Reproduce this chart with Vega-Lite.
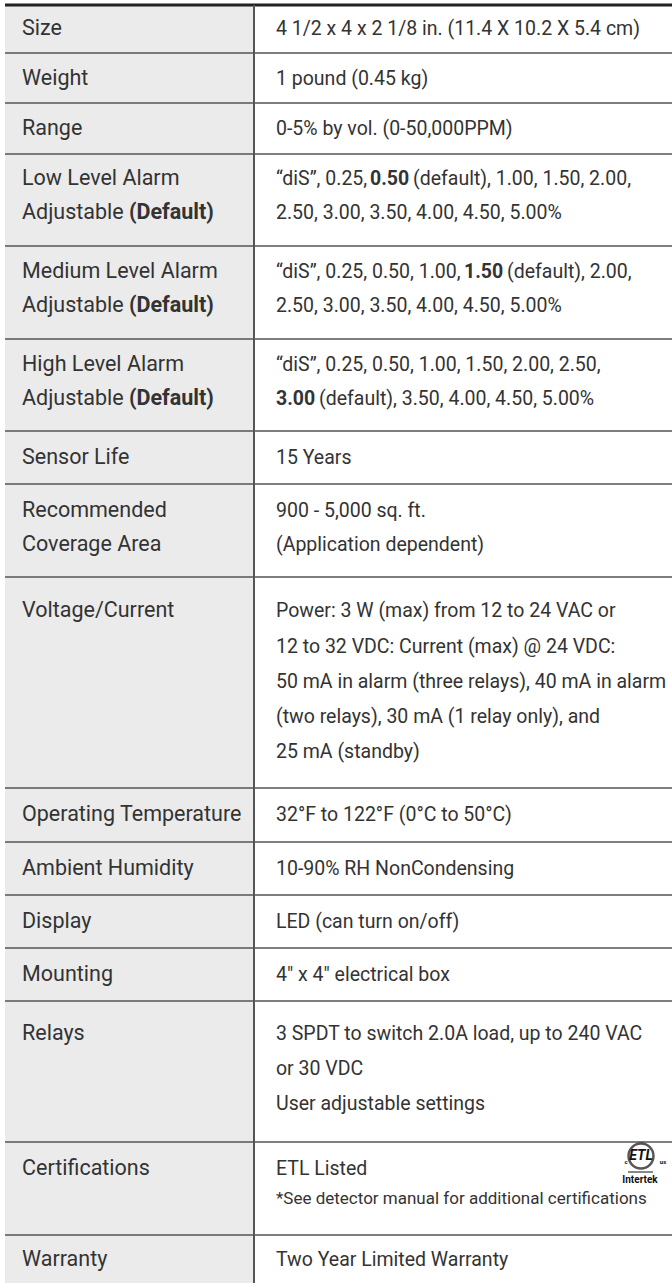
{
  "$schema": "https://vega.github.io/schema/vega-lite/v6.json",
  "width": 672,
  "height": 1283,
  "autosize": {"type": "fit", "contains": "padding"},
  "padding": 0,
  "background": "white",
  "config": {"view": {"stroke": null}},
  "datasets": {
    "rows": [
      {"row": 1, "top": 5, "bottom": 53},
      {"row": 2, "top": 53, "bottom": 103},
      {"row": 3, "top": 103, "bottom": 154},
      {"row": 4, "top": 154, "bottom": 246},
      {"row": 5, "top": 246, "bottom": 339},
      {"row": 6, "top": 339, "bottom": 431},
      {"row": 7, "top": 431, "bottom": 484},
      {"row": 8, "top": 484, "bottom": 577},
      {"row": 9, "top": 577, "bottom": 788},
      {"row": 10, "top": 788, "bottom": 842},
      {"row": 11, "top": 842, "bottom": 895},
      {"row": 12, "top": 895, "bottom": 948},
      {"row": 13, "top": 948, "bottom": 1001},
      {"row": 14, "top": 1001, "bottom": 1142},
      {"row": 15, "top": 1142, "bottom": 1235},
      {"row": 16, "top": 1235, "bottom": 1283}
    ],
    "cells": [
      {"x": 22, "y": 29, "kind": "label", "text": "Size"},
      {"x": 22, "y": 79, "kind": "label", "text": "Weight"},
      {"x": 22, "y": 129, "kind": "label", "text": "Range"},
      {"x": 22, "y": 179, "kind": "label", "text": "Low Level Alarm"},
      {"x": 22, "y": 213, "kind": "label", "text": "Adjustable"},
      {"x": 129, "y": 213, "kind": "labelbold", "text": "(Default)"},
      {"x": 22, "y": 272, "kind": "label", "text": "Medium Level Alarm"},
      {"x": 22, "y": 306, "kind": "label", "text": "Adjustable"},
      {"x": 129, "y": 306, "kind": "labelbold", "text": "(Default)"},
      {"x": 22, "y": 365, "kind": "label", "text": "High Level Alarm"},
      {"x": 22, "y": 399, "kind": "label", "text": "Adjustable"},
      {"x": 129, "y": 399, "kind": "labelbold", "text": "(Default)"},
      {"x": 22, "y": 458, "kind": "label", "text": "Sensor Life"},
      {"x": 22, "y": 511, "kind": "label", "text": "Recommended"},
      {"x": 22, "y": 545, "kind": "label", "text": "Coverage Area"},
      {"x": 22, "y": 611, "kind": "label", "text": "Voltage/Current"},
      {"x": 22, "y": 815, "kind": "label", "text": "Operating Temperature"},
      {"x": 22, "y": 869, "kind": "label", "text": "Ambient Humidity"},
      {"x": 22, "y": 922, "kind": "label", "text": "Display"},
      {"x": 22, "y": 975, "kind": "label", "text": "Mounting"},
      {"x": 22, "y": 1034, "kind": "label", "text": "Relays"},
      {"x": 22, "y": 1169, "kind": "label", "text": "Certifications"},
      {"x": 22, "y": 1260, "kind": "label", "text": "Warranty"},
      {"x": 276, "y": 29, "kind": "normal", "text": "4 1/2 x 4 x 2 1/8 in. (11.4 X 10.2 X 5.4 cm)"},
      {"x": 276, "y": 79, "kind": "normal", "text": "1 pound (0.45 kg)"},
      {"x": 276, "y": 129, "kind": "normal", "text": "0-5% by vol. (0-50,000PPM)"},
      {"x": 276, "y": 179, "kind": "normal", "text": "“diS”, 0.25,"},
      {"x": 370, "y": 179, "kind": "bold", "text": "0.50"},
      {"x": 413, "y": 179, "kind": "normal", "text": "(default), 1.00, 1.50, 2.00,"},
      {"x": 276, "y": 213, "kind": "normal", "text": "2.50, 3.00, 3.50, 4.00, 4.50, 5.00%"},
      {"x": 276, "y": 272, "kind": "normal", "text": "“diS”, 0.25, 0.50, 1.00,"},
      {"x": 464, "y": 272, "kind": "bold", "text": "1.50"},
      {"x": 507, "y": 272, "kind": "normal", "text": "(default), 2.00,"},
      {"x": 276, "y": 306, "kind": "normal", "text": "2.50, 3.00, 3.50, 4.00, 4.50, 5.00%"},
      {"x": 276, "y": 365, "kind": "normal", "text": "“diS”, 0.25, 0.50, 1.00, 1.50, 2.00, 2.50,"},
      {"x": 276, "y": 399, "kind": "bold", "text": "3.00"},
      {"x": 319, "y": 399, "kind": "normal", "text": "(default), 3.50, 4.00, 4.50, 5.00%"},
      {"x": 276, "y": 458, "kind": "normal", "text": "15 Years"},
      {"x": 276, "y": 511, "kind": "normal", "text": "900 - 5,000 sq. ft."},
      {"x": 276, "y": 545, "kind": "normal", "text": "(Application dependent)"},
      {"x": 276, "y": 611, "kind": "normal", "text": "Power: 3 W (max) from 12 to 24 VAC or"},
      {"x": 276, "y": 647, "kind": "normal", "text": "12 to 32 VDC: Current (max) @ 24 VDC:"},
      {"x": 276, "y": 682, "kind": "normal", "text": "50 mA in alarm (three relays), 40 mA in alarm"},
      {"x": 276, "y": 717, "kind": "normal", "text": "(two relays), 30 mA (1 relay only), and"},
      {"x": 276, "y": 752, "kind": "normal", "text": "25 mA (standby)"},
      {"x": 276, "y": 815, "kind": "normal", "text": "32°F to 122°F (0°C to 50°C)"},
      {"x": 276, "y": 869, "kind": "normal", "text": "10-90% RH NonCondensing"},
      {"x": 276, "y": 922, "kind": "normal", "text": "LED (can turn on/off)"},
      {"x": 276, "y": 975, "kind": "normal", "text": "4″ x 4″ electrical box"},
      {"x": 276, "y": 1034, "kind": "normal", "text": "3 SPDT to switch 2.0A load, up to 240 VAC"},
      {"x": 276, "y": 1069, "kind": "normal", "text": "or 30 VDC"},
      {"x": 276, "y": 1104, "kind": "normal", "text": "User adjustable settings"},
      {"x": 276, "y": 1169, "kind": "normal", "text": "ETL Listed"},
      {"x": 276, "y": 1199, "kind": "note", "text": "*See detector manual for additional certifications"},
      {"x": 276, "y": 1260, "kind": "normal", "text": "Two Year Limited Warranty"}
    ],
    "logo": [
      {"part": "ring", "x": 641, "y": 1156, "text": "ETL"},
      {"part": "c", "x": 626, "y": 1162, "text": "c"},
      {"part": "us", "x": 663, "y": 1162, "text": "us"},
      {"part": "brand", "x": 640, "y": 1180, "text": "Intertek"}
    ],
    "bar": [
      {"x": 628, "x2": 653, "y": 1172}
    ]
  },
  "layer": [
    {
      "data": {"name": "rows"},
      "mark": {"type": "rect", "color": "#ebebeb"},
      "encoding": {
        "x": {"datum": 5, "type": "quantitative", "scale": {"domain": [0, 672], "range": [0, 672], "nice": false, "zero": false}, "axis": null},
        "x2": {"datum": 254},
        "y": {"field": "top", "type": "quantitative", "scale": {"domain": [0, 1283], "range": [0, 1283], "nice": false, "zero": false}, "axis": null},
        "y2": {"field": "bottom"}
      }
    },
    {
      "data": {"name": "rows"},
      "transform": [{"filter": "datum.bottom < 1283"}],
      "mark": {"type": "rule", "color": "#555555", "strokeWidth": 1.5},
      "encoding": {
        "x": {"datum": 5, "type": "quantitative"},
        "x2": {"datum": 672},
        "y": {"field": "bottom", "type": "quantitative"}
      }
    },
    {
      "data": {"name": "rows"},
      "transform": [{"filter": "datum.row == 1"}],
      "mark": {"type": "rule", "color": "#222222", "strokeWidth": 3},
      "encoding": {
        "x": {"datum": 5, "type": "quantitative"},
        "x2": {"datum": 672},
        "y": {"field": "top", "type": "quantitative"}
      }
    },
    {
      "data": {"name": "rows"},
      "mark": {"type": "rule", "color": "#555555", "strokeWidth": 2},
      "encoding": {
        "x": {"datum": 254, "type": "quantitative"},
        "y": {"field": "top", "type": "quantitative"},
        "y2": {"field": "bottom"}
      }
    },
    {
      "data": {"name": "cells"},
      "transform": [{"filter": "datum.kind == 'label'"}],
      "mark": {"type": "text", "align": "left", "baseline": "middle", "font": "Roboto", "fontSize": 21.5, "color": "#333333"},
      "encoding": {
        "x": {"field": "x", "type": "quantitative"},
        "y": {"field": "y", "type": "quantitative"},
        "text": {"field": "text"}
      }
    },
    {
      "data": {"name": "cells"},
      "transform": [{"filter": "datum.kind == 'labelbold'"}],
      "mark": {"type": "text", "align": "left", "baseline": "middle", "font": "Roboto", "fontSize": 21.5, "fontWeight": "bold", "color": "#333333"},
      "encoding": {
        "x": {"field": "x", "type": "quantitative"},
        "y": {"field": "y", "type": "quantitative"},
        "text": {"field": "text"}
      }
    },
    {
      "data": {"name": "cells"},
      "transform": [{"filter": "datum.kind == 'normal'"}],
      "mark": {"type": "text", "align": "left", "baseline": "middle", "font": "Roboto", "fontSize": 19.5, "color": "#333333"},
      "encoding": {
        "x": {"field": "x", "type": "quantitative"},
        "y": {"field": "y", "type": "quantitative"},
        "text": {"field": "text"}
      }
    },
    {
      "data": {"name": "cells"},
      "transform": [{"filter": "datum.kind == 'bold'"}],
      "mark": {"type": "text", "align": "left", "baseline": "middle", "font": "Roboto", "fontSize": 19.5, "fontWeight": "bold", "color": "#333333"},
      "encoding": {
        "x": {"field": "x", "type": "quantitative"},
        "y": {"field": "y", "type": "quantitative"},
        "text": {"field": "text"}
      }
    },
    {
      "data": {"name": "cells"},
      "transform": [{"filter": "datum.kind == 'note'"}],
      "mark": {"type": "text", "align": "left", "baseline": "middle", "font": "Roboto", "fontSize": 17, "color": "#333333"},
      "encoding": {
        "x": {"field": "x", "type": "quantitative"},
        "y": {"field": "y", "type": "quantitative"},
        "text": {"field": "text"}
      }
    },
    {
      "data": {"name": "logo"},
      "transform": [{"filter": "datum.part == 'ring'"}],
      "mark": {"type": "point", "shape": "circle", "filled": false, "size": 620, "stroke": "#111111", "strokeWidth": 2.5},
      "encoding": {
        "x": {"field": "x", "type": "quantitative"},
        "y": {"field": "y", "type": "quantitative"}
      }
    },
    {
      "data": {"name": "logo"},
      "transform": [{"filter": "datum.part == 'ring'"}],
      "mark": {"type": "text", "align": "center", "baseline": "middle", "font": "Roboto", "fontSize": 14, "fontWeight": "bold", "fontStyle": "italic", "color": "#111111"},
      "encoding": {
        "x": {"field": "x", "type": "quantitative"},
        "y": {"field": "y", "type": "quantitative"},
        "text": {"field": "text"}
      }
    },
    {
      "data": {"name": "logo"},
      "transform": [{"filter": "datum.part == 'c' || datum.part == 'us'"}],
      "mark": {"type": "text", "align": "center", "baseline": "middle", "font": "Roboto", "fontSize": 6, "fontWeight": "bold", "color": "#111111"},
      "encoding": {
        "x": {"field": "x", "type": "quantitative"},
        "y": {"field": "y", "type": "quantitative"},
        "text": {"field": "text"}
      }
    },
    {
      "data": {"name": "logo"},
      "transform": [{"filter": "datum.part == 'brand'"}],
      "mark": {"type": "text", "align": "center", "baseline": "middle", "font": "Roboto", "fontSize": 10, "fontWeight": "bold", "color": "#111111"},
      "encoding": {
        "x": {"field": "x", "type": "quantitative"},
        "y": {"field": "y", "type": "quantitative"},
        "text": {"field": "text"}
      }
    },
    {
      "data": {"name": "bar"},
      "mark": {"type": "rule", "color": "#111111", "strokeWidth": 1},
      "encoding": {
        "x": {"field": "x", "type": "quantitative"},
        "x2": {"field": "x2"},
        "y": {"field": "y", "type": "quantitative"}
      }
    }
  ]
}
